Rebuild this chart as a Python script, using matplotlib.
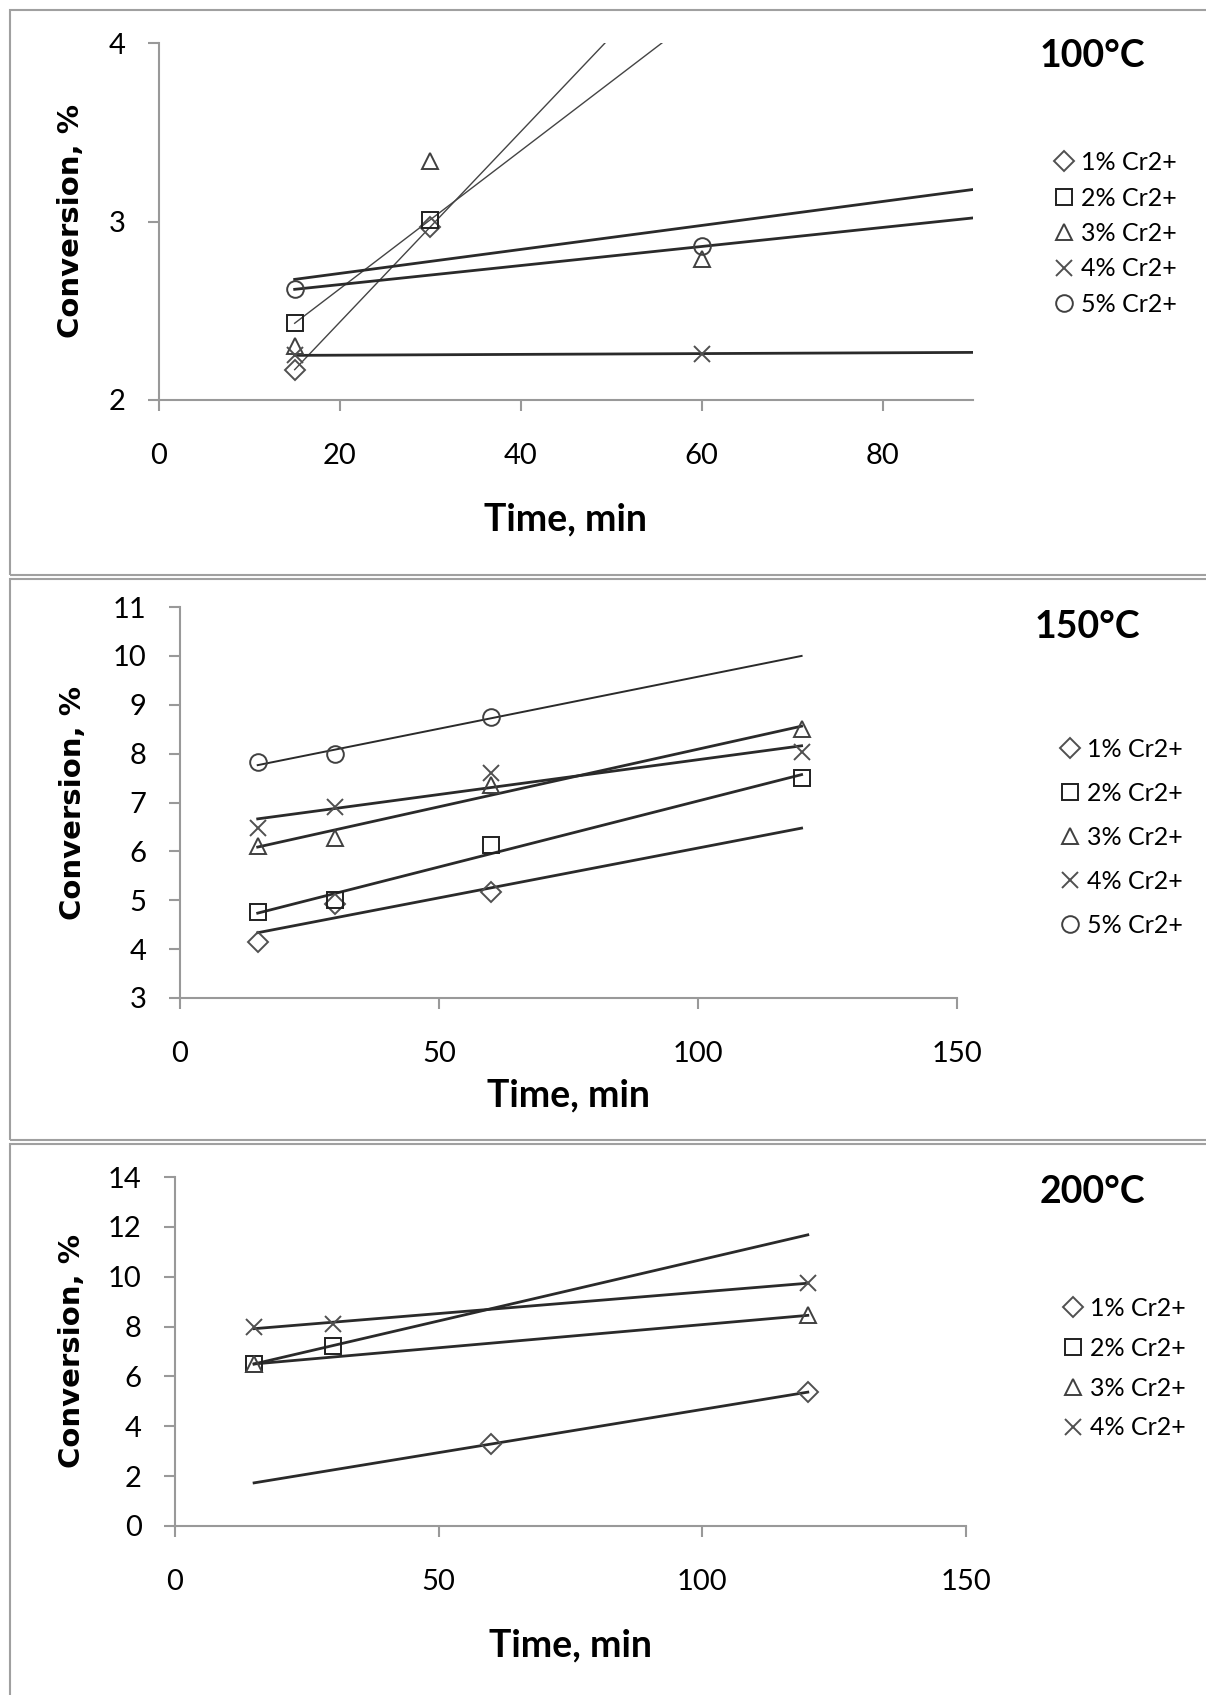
import numpy as np
import matplotlib
matplotlib.use("Agg")
import matplotlib.pyplot as plt
from matplotlib.patches import Rectangle

W, H = 1206, 1695

# ---- data ----
labels = ["1% Cr2+", "2% Cr2+", "3% Cr2+", "4% Cr2+", "5% Cr2+"]
markers = ["D", "s", "^", "x", "o"]

# 100 C
t100_1, y100_1 = [15, 30], [2.17, 2.97]
t100_2, y100_2 = [15, 30], [2.43, 3.01]
t100_3, y100_3 = [15, 30, 60], [2.30, 3.34, 2.79]
t100_4, y100_4 = [15, 60], [2.25, 2.26]
t100_5, y100_5 = [15, 60], [2.62, 2.86]

# 150 C
t150 = [15, 30, 60, 120]
t150_1, y150_1 = [15, 30, 60], [4.15, 4.92, 5.16]
y150_2 = [4.75, 5.00, 6.14, 7.51]
y150_3 = [6.12, 6.27, 7.35, 8.50]
y150_4 = [6.47, 6.91, 7.60, 8.03]
t150_5, y150_5 = [15, 30, 60], [7.82, 8.00, 8.75]

# 200 C
t200_1, y200_1 = [60, 120], [3.29, 5.37]
t200_2, y200_2 = [15, 30], [6.50, 7.24]
t200_3, y200_3 = [15, 120], [6.50, 8.45]
t200_4, y200_4 = [15, 30, 120], [7.98, 8.10, 9.75]

panels = [
    dict(title="100\u00b0C", series=[(t100_1, y100_1), (t100_2, y100_2), (t100_3, y100_3),
                                (t100_4, y100_4), (t100_5, y100_5)],
         xlim=(0, 90), xticks=[0, 20, 40, 60, 80], ylim=(2, 4), yticks=[2, 3, 4],
         fit_to=90, box=(159, 43, 973, 400), frame=(10, 10, 575),
         title_xy=(1092, 56), leg=(1051, 151), legsp=0.5,
         xl=-0.288, yl=-0.091, lw=[1.0, 1.0, 2.0, 2.0, 2.0]),
    dict(title="150\u00b0C", series=[(t150_1, y150_1), (t150, y150_2), (t150, y150_3),
                                (t150, y150_4), (t150_5, y150_5)],
         xlim=(0, 150), xticks=[0, 50, 100, 150], ylim=(3, 11), yticks=list(range(3, 12)),
         fit_to=120, box=(180, 607, 957, 998), frame=(10, 579, 1140),
         title_xy=(1087, 627), leg=(1057, 738), legsp=0.84,
         xl=-0.205, yl=-0.120, lw=[2.0, 2.0, 2.0, 2.0, 1.4]),
    dict(title="200\u00b0C", series=[(t200_1, y200_1), (t200_2, y200_2), (t200_3, y200_3),
                                (t200_4, y200_4)],
         xlim=(0, 150), xticks=[0, 50, 100, 150], ylim=(0, 14), yticks=list(range(0, 15, 2)),
         fit_to=120, box=(175, 1177, 966, 1526), frame=(10, 1144, 1700),
         title_xy=(1092, 1192), leg=(1060, 1297), legsp=0.67,
         xl=-0.295, yl=-0.113, lw=[2.0, 2.0, 2.0, 2.0]),
]

mk_size = {"D": 10, "s": 12, "^": 12, "x": 12, "o": 12}
mk_col = ["#505050", "#202020", "#404040", "#505050", "#404040"]

fig = plt.figure(figsize=(W / 100, H / 100), dpi=100)

for p in panels:
    # gray frame around each chart
    fx, ftop, fbot = p["frame"]
    fig.add_artist(Rectangle((fx / W, 1 - fbot / H), (W + 20 - fx) / W, (fbot - ftop) / H,
                             transform=fig.transFigure, fill=False,
                             edgecolor="#a0a0a0", linewidth=1.5))

    l, t, r, b = p["box"]
    ax = fig.add_axes([l / W, 1 - b / H, (r - l) / W, (b - t) / H])

    handles = []
    for i, (tx, ty) in enumerate(p["series"]):
        tx = np.array(tx, float)
        ty = np.array(ty, float)
        k, c = np.polyfit(tx, ty, 1)
        xs = np.array([15, p["fit_to"]])
        ax.plot(xs, k * xs + c, color="#2a2a2a" if p["lw"][i] > 1.2 else "#444444",
                lw=p["lw"][i], zorder=2)
        h, = ax.plot(tx, ty, linestyle="none", marker=markers[i], markersize=mk_size[markers[i]],
                     markerfacecolor="none", markeredgecolor=mk_col[i], markeredgewidth=1.4,
                     zorder=3, label=labels[i])
        handles.append(h)

    ax.set_xlim(*p["xlim"])
    ax.set_ylim(*p["ylim"])
    ax.set_xticks(p["xticks"])
    ax.set_yticks(p["yticks"])
    for s in ["top", "right"]:
        ax.spines[s].set_visible(False)
    for s in ["left", "bottom"]:
        ax.spines[s].set_color("#999999")
        ax.spines[s].set_linewidth(1.5)
    ax.tick_params(axis="both", direction="out", length=8, width=1.5, color="#999999",
                   labelsize=21)
    ax.tick_params(axis="x", pad=23)
    ax.tick_params(axis="y", pad=16)
    for lab in ax.get_xticklabels() + ax.get_yticklabels():
        lab.set_family("Lato")

    ax.set_xlabel("Time, min", family="Lato", fontweight="bold", fontsize=27)
    ax.xaxis.set_label_coords(0.5, p["xl"])
    ax.set_ylabel("Conversion, %", family="DejaVu Sans", fontweight="bold", fontsize=21)
    ax.yaxis.set_label_coords(p["yl"], 0.5)

    tx, ty = p["title_xy"]
    fig.text(tx / W, 1 - ty / H, p["title"], family="Lato", fontweight="bold", fontsize=27,
             ha="center", va="center")

    lx, ly = p["leg"]
    ax.legend(handles=handles, loc="upper left", bbox_to_anchor=(lx / W, 1 - ly / H),
              bbox_transform=fig.transFigure, frameon=False, borderpad=0, borderaxespad=0,
              handlelength=1.0, handletextpad=0.2, labelspacing=p["legsp"],
              prop={"family": "Lato", "size": 18}, numpoints=1)

fig.savefig("out.png", dpi=100)
